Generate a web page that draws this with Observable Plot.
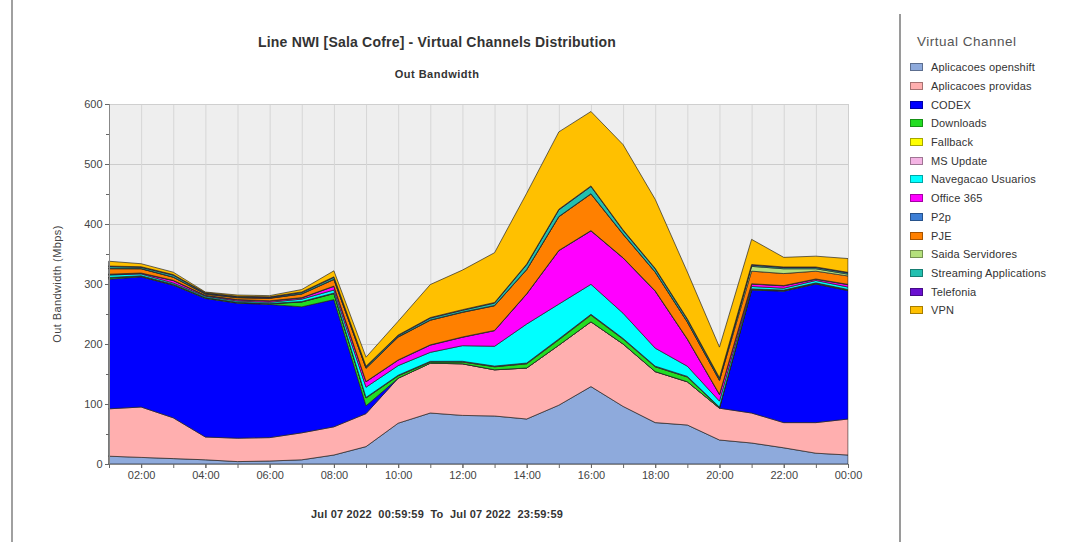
<!DOCTYPE html>
<html><head><meta charset="utf-8">
<script src="https://cdn.jsdelivr.net/npm/d3@7"></script>
<script src="https://cdn.jsdelivr.net/npm/@observablehq/plot@0.6"></script>
<style>
body{margin:0;background:#fff;font-family:"Liberation Sans",Arial,sans-serif;}
#wrap{position:relative;width:1065px;height:542px;overflow:hidden;background:#fff;}
#wrap svg{position:absolute;left:0;top:0;}
.t{position:absolute;white-space:pre;color:#333;}
#title{left:12px;width:850px;top:34px;text-align:center;font-weight:bold;font-size:14px;letter-spacing:0.2px;}
#subtitle{left:12px;width:850px;top:68px;text-align:center;font-weight:bold;font-size:11px;letter-spacing:0.5px;}
#xlabel{left:12px;width:850px;top:508px;text-align:center;font-weight:bold;font-size:11px;letter-spacing:0.2px;}
#ylabel{left:57px;top:284px;font-size:11px;letter-spacing:0.4px;color:#444;transform:translate(-50%,-50%) rotate(-90deg);}
#sepL{position:absolute;left:11px;top:0;width:2px;height:542px;background:#a0a0a0;}
#sepR{position:absolute;left:899px;top:14px;width:2px;height:528px;background:#9a9a9a;}
#legend{position:absolute;left:910px;top:34px;}
#legend .lt{font-size:13.5px;letter-spacing:0.5px;color:#555;margin:0 0 9px 7px;}
#legend .it{display:flex;align-items:center;height:18.7px;font-size:11px;letter-spacing:0.15px;color:#333;}
#legend .sw{width:11px;height:6px;border:1px solid rgba(0,0,0,0.35);margin-right:8px;}
</style></head><body><div id="wrap"></div><script>
// ---- data ----
const hours = ["01:00","02:00","03:00","04:00","05:00","06:00","07:00","08:00","09:00","10:00","11:00","12:00",
               "13:00","14:00","15:00","16:00","17:00","18:00","19:00","20:00","21:00","22:00","23:00","00:00"];
const seriesNames = ["Aplicacoes openshift","Aplicacoes providas","CODEX","Downloads","Fallback","MS Update",
  "Navegacao Usuarios","Office 365","P2p","PJE","Saida Servidores","Streaming Applications","Telefonia","VPN"];
const seriesColors = ["#8eaadc","#ffafaf","#0000ff","#22dd22","#ffff00","#f4b4e4","#00ffff","#ff00ff",
  "#3d7fd6","#ff8000","#b4e07c","#22c0b0","#6a10d0","#ffc000"];

const openshift = [13,11,9,7,4,5,7,15,29,68,85,81,80,75,98,129,96,69,65,40,35,27,18,15];
const providas  = [79,84,68,38,39,39,45,47,55,75,83,86,77,85,100,108,104,85,72,53,50,42,51,60];
const codex     = [216,217,221,231,225,222,210,212,13,0,0,0,0,0,0,0,0,0,0,0,205,219,231,214];
const downloads = [2,1,1,1,1,1,8,10,13,4,2,3,5,7,9,11,8,8,8,1,1,1,1,1];
const fallback  = [0.4,0.4,0.3,0.3,0.3,0.3,0.4,0.5,0.5,0.5,0.6,0.6,0.6,0.7,0.8,0.8,0.7,0.6,0.5,0.4,0.4,0.4,0.4,0.4];
const msUpdate  = [0.5,0.4,0.4,0.3,0.3,0.3,0.4,0.5,0.5,0.5,0.5,0.6,0.6,0.6,0.7,0.7,0.6,0.5,0.5,0.4,0.5,0.5,0.5,0.5];
const navegacao = [4,3,2,2,2,2,4,5,17,16,15,26,33,65,58,50,42,30,17,10,4,3,4,4];
const office365 = [1,1,4,1,2,2,2,6,9,9,12,14,26,50,89,89,92,95,45,11,4,4,2,4];
const p2p       = [0.5,0.5,0.5,0.5,0.5,0.5,0.5,0.5,0.5,0.5,0.5,0.5,0.5,0.5,0.5,0.5,0.5,0.5,0.5,0.5,0.5,0.5,0.5,0.5];
const pje       = [9,7,5,2,3,4,6,11,22,38,41,41,41,40,56,61,39,31,28,23,21,20,13,14];
const saida     = [0.5,0.5,0.5,0.5,0.5,0.5,0.5,0.5,0.5,0.5,0.5,0.5,0.5,0.5,0.5,0.5,0.5,0.5,0.5,0.5,8,8,4,3];
const streaming = [3,2,3,1,1,1,2,3,2,2,3,3,4,8,11,12,6,5,4,3,2,2,2,2];
const telefonia = [1,1,1,1,1,1,1,1,1,1,1,1,1,1,1,1,1,1,1,1,1,1,1,1];
const vpn       = [8,5,4,1,2,2,4,10,15,23,55,66,83,118,129,124,142,115,78,51,42,16,18,23];

const yTicks = [0,100,200,300,400,500,600];
const yMinorTicks = [50,150,250,350,450,550];
const xLabelHours = ["02:00","04:00","06:00","08:00","10:00","12:00","14:00","16:00","18:00","20:00","22:00","00:00"];

// ---- build ----
const values = [openshift,providas,codex,downloads,fallback,msUpdate,navegacao,office365,p2p,pje,saida,streaming,telefonia,vpn];
const toTime = h => { const hh = +h.slice(0,2) || 24; return new Date(Date.UTC(2022,6,7,hh)); };
const times = hours.map(toTime);
const data = [];
seriesNames.forEach((s,i) => hours.forEach((h,j) => data.push({series:s, time:times[j], value:values[i][j]})));
const fmt = d3.utcFormat("%H:%M");

const chart = Plot.plot({
  width:1065, height:542,
  marginLeft:109, marginRight:217, marginTop:104, marginBottom:78,
  style:{fontFamily:"'Liberation Sans', Arial, sans-serif", fontSize:"11px", color:"#444", background:"transparent"},
  x:{type:"utc", domain:[times[0], times[times.length-1]]},
  y:{domain:[0,600]},
  color:{domain:seriesNames, range:seriesColors},
  marks:[
    Plot.frame({fill:"#eeeeee", stroke:null}),
    Plot.gridY(yTicks, {stroke:"#cccccc", strokeOpacity:1}),
    Plot.gridX(times, {stroke:"#d6d6d6", strokeOpacity:1}),
    Plot.areaY(data, Plot.stackY({x:"time", y:"value", z:"series", fill:"series", stroke:"#222", strokeWidth:0.8, strokeOpacity:0.85})),
    Plot.frame({stroke:"#cfcfcf"}),
    Plot.ruleX([times[0]], {stroke:"#888"}),
    Plot.ruleY([0], {stroke:"#888"}),
    Plot.axisY(yTicks, {tickSize:4, tickPadding:3, label:null, stroke:"#666", fill:"#444"}),
    Plot.axisY(yMinorTicks, {tickSize:3, tickFormat:() => "", label:null, stroke:"#666"}),
    Plot.axisX(xLabelHours.map(toTime), {tickSize:4, tickPadding:3, tickFormat:fmt, label:null, stroke:"#666", fill:"#444"}),
    Plot.axisX(times, {tickSize:4, tickFormat:() => "", label:null, stroke:"#666"})
  ]
});

const wrap = document.getElementById("wrap");
wrap.appendChild(chart);
const add = (id, text) => { const d = document.createElement("div"); d.className = "t"; d.id = id; d.textContent = text; wrap.appendChild(d); };
add("title","Line NWI [Sala Cofre] - Virtual Channels Distribution");
add("subtitle","Out Bandwidth");
add("xlabel","Jul 07 2022  00:59:59  To  Jul 07 2022  23:59:59");
add("ylabel","Out Bandwidth (Mbps)");
["sepL","sepR"].forEach(id => { const d = document.createElement("div"); d.id = id; wrap.appendChild(d); });
const lg = document.createElement("div"); lg.id = "legend";
lg.innerHTML = `<div class="lt">Virtual Channel</div>` + seriesNames.map((s,i) =>
  `<div class="it"><span class="sw" style="background:${seriesColors[i]}"></span>${s}</div>`).join("");
wrap.appendChild(lg);
</script></body></html>
